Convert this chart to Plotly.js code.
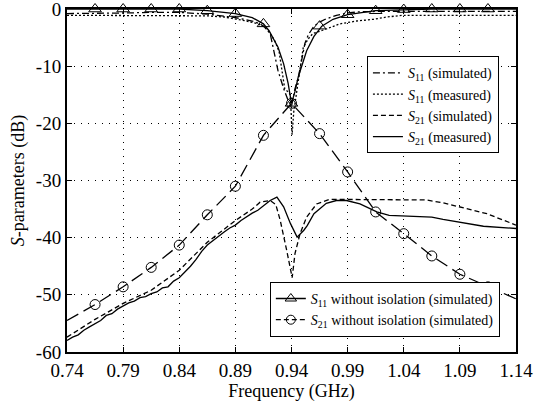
<!DOCTYPE html>
<html>
<head>
<meta charset="utf-8">
<script src="https://cdn.plot.ly/plotly-3.0.1.min.js"></script>
<style>html,body{margin:0;padding:0;background:#fff;}#chart{width:536px;height:415px;}</style>
</head>
<body>
<div id="chart"></div>
<script>
// ---- data ----
var xTickVals = [0.74, 0.79, 0.84, 0.89, 0.94, 0.99, 1.04, 1.09, 1.14];
var xTickText = ["0.74", "0.79", "0.84", "0.89", "0.94", "0.99", "1.04", "1.09", "1.14"];
var yTickVals = [0, -10, -20, -30, -40, -50, -60];
var yTickText = ["0", "-10", "-20", "-30", "-40", "-50", "-60"];

var s11SimFreq = [0.74, 0.765, 0.79, 0.815, 0.84, 0.865, 0.88, 0.89, 0.90, 0.905, 0.912, 0.918, 0.921, 0.924, 0.928, 0.933, 0.937, 0.94, 0.943, 0.946, 0.949, 0.952, 0.955, 0.96, 0.965, 0.97, 0.98, 0.99, 1.0, 1.02, 1.06, 1.10, 1.14];
var s11SimDb   = [-0.8, -0.8, -0.7, -0.6, -0.6, -0.9, -1.2, -1.5, -1.9, -2.1, -2.6, -3.5, -4.3, -7.0, -10.8, -13.9, -16.0, -17.0, -14.0, -12.0, -9.0, -6.0, -4.5, -3.0, -2.3, -1.8, -1.1, -0.7, -0.5, -0.4, -0.4, -0.4, -0.4];

var s11MeasFreq = [0.74, 0.79, 0.84, 0.865, 0.88, 0.89, 0.90, 0.91, 0.915, 0.92, 0.925, 0.929, 0.932, 0.934, 0.937, 0.939, 0.9405, 0.942, 0.945, 0.9476, 0.9505, 0.955, 0.959, 0.971, 0.983, 0.998, 1.013, 1.025, 1.039, 1.07, 1.10, 1.14];
var s11MeasDb   = [-1.1, -1.1, -1.1, -1.2, -1.4, -1.7, -2.1, -2.6, -3.0, -4.0, -5.5, -7.5, -11.0, -14.0, -14.5, -15.0, -22.0, -18.0, -14.0, -10.2, -6.7, -5.2, -4.3, -3.5, -2.6, -2.1, -1.8, -1.4, -1.1, -1.1, -1.1, -1.1];

var s21SimFreq = [0.74, 0.765, 0.79, 0.815, 0.84, 0.865, 0.89, 0.905, 0.912, 0.921, 0.926, 0.93, 0.9357, 0.9406, 0.9431, 0.9476, 0.9535, 0.9624, 0.974, 1.0, 1.03, 1.06, 1.075, 1.09, 1.114, 1.14];
var s21SimDb   = [-57.4, -54.3, -51.5, -49.2, -45.7, -40.8, -37.0, -35.0, -33.8, -33.5, -34.2, -37.0, -42.2, -47.0, -42.8, -39.3, -36.4, -34.1, -33.3, -33.3, -33.3, -33.4, -33.9, -34.6, -35.8, -37.8];

var s21MeasFreq = [0.74, 0.745, 0.75, 0.755, 0.76, 0.765, 0.77, 0.775, 0.78, 0.785, 0.79, 0.795, 0.80, 0.805, 0.81, 0.815, 0.82, 0.825, 0.83, 0.835, 0.84, 0.845, 0.85, 0.855, 0.86, 0.865, 0.87, 0.875, 0.88, 0.885, 0.89, 0.895, 0.90, 0.905, 0.91, 0.916, 0.921, 0.927, 0.933, 0.939, 0.945, 0.951, 0.954, 0.96, 0.971, 0.98, 0.989, 1.001, 1.016, 1.027, 1.05, 1.065, 1.075, 1.09, 1.111, 1.14];
var s21MeasDb   = [-58.0, -57.4, -57.0, -56.2, -55.6, -55.0, -54.5, -53.6, -53.3, -52.5, -52.0, -51.4, -51.1, -50.5, -50.3, -49.8, -49.5, -48.8, -48.6, -47.6, -47.0, -46.0, -45.0, -43.8, -42.4, -41.3, -40.5, -39.7, -39.0, -38.3, -37.8, -37.0, -36.3, -35.7, -35.2, -34.2, -33.5, -32.9, -34.6, -37.5, -39.9, -38.7, -37.9, -35.8, -34.0, -33.5, -33.5, -34.1, -35.5, -36.1, -36.3, -36.4, -36.8, -37.3, -38.0, -38.4];

var s11NoIsoFreq = [0.74, 0.765, 0.79, 0.815, 0.84, 0.865, 0.89, 0.905, 0.915, 0.92, 0.928, 0.933, 0.937, 0.94, 0.943, 0.946, 0.95, 0.9535, 0.96, 0.967, 0.977, 0.99, 1.015, 1.04, 1.065, 1.09, 1.115, 1.14];
var s11NoIsoDb   = [0, 0, 0, 0, 0, -0.3, -0.8, -1.5, -2.6, -3.8, -6.7, -9.6, -13.0, -16.5, -14.5, -11.9, -9.3, -7.3, -4.8, -3.0, -1.8, -1.0, -0.3, -0.1, 0, 0, 0, 0];
var s11NoIsoMarkFreq = [0.765, 0.79, 0.815, 0.84, 0.865, 0.89, 0.915, 0.94, 0.965, 0.99, 1.015, 1.04, 1.065, 1.09, 1.115];
var s11NoIsoMarkDb   = [0, 0, 0, 0, -0.3, -0.8, -2.6, -16.5, -3.0, -1.0, -0.3, -0.1, 0, 0, 0];

var s21NoIsoFreq = [0.74, 0.765, 0.79, 0.815, 0.84, 0.865, 0.89, 0.915, 0.94, 0.965, 0.99, 1.015, 1.04, 1.065, 1.09, 1.115, 1.14];
var s21NoIsoDb   = [-54.5, -51.7, -48.6, -45.2, -41.3, -36.0, -31.0, -22.1, -16.5, -21.8, -28.5, -35.5, -39.3, -43.2, -46.4, -48.6, -50.7];
var s21NoIsoMarkFreq = [0.765, 0.79, 0.815, 0.84, 0.865, 0.89, 0.915, 0.94, 0.965, 0.99, 1.015, 1.04, 1.065, 1.09, 1.115];
var s21NoIsoMarkDb   = [-51.7, -48.6, -45.2, -41.3, -36.0, -31.0, -22.1, -16.5, -21.8, -28.5, -35.5, -39.3, -43.2, -46.4, -48.6];

var names = [
  "<i>S</i><sub>11</sub> (simulated)",
  "<i>S</i><sub>11</sub> (measured)",
  "<i>S</i><sub>21</sub> (simulated)",
  "<i>S</i><sub>21</sub> (measured)",
  "<i>S</i><sub>11</sub> without isolation (simulated)",
  "<i>S</i><sub>21</sub> without isolation (simulated)"
];

// ---- traces ----
var FONT = 'Liberation Serif, Times New Roman, serif';
var LW = 1.3;
var traces = [
  {x: s21NoIsoFreq, y: s21NoIsoDb, mode: 'lines', line: {color: '#000', width: LW, dash: '13px,6px'}, showlegend: false, hoverinfo: 'skip', cliponaxis: true},
  {x: s21NoIsoMarkFreq, y: s21NoIsoMarkDb, mode: 'markers', marker: {symbol: 'circle-open', size: 10, color: '#000', line: {width: 1, color: '#000'}}, showlegend: false, cliponaxis: false},
  {x: s11NoIsoFreq, y: s11NoIsoDb, mode: 'lines', line: {color: '#000', width: LW}, showlegend: false, cliponaxis: false},
  {x: s11NoIsoMarkFreq, y: s11NoIsoMarkDb, mode: 'markers', marker: {symbol: 'triangle-up-open', size: 11, color: '#000', line: {width: 1, color: '#000'}}, showlegend: false, cliponaxis: false},
  {x: s11SimFreq, y: s11SimDb, mode: 'lines', name: names[0], line: {color: '#000', width: LW, dash: '7px,3px,2px,3px'}, legend: 'legend'},
  {x: s11MeasFreq, y: s11MeasDb, mode: 'lines', name: names[1], line: {color: '#000', width: LW, dash: '2px,2px'}, legend: 'legend'},
  {x: s21SimFreq, y: s21SimDb, mode: 'lines', name: names[2], line: {color: '#000', width: LW, dash: '5px,3px'}, legend: 'legend'},
  {x: s21MeasFreq, y: s21MeasDb, mode: 'lines', name: names[3], line: {color: '#000', width: LW}, legend: 'legend'},
  {x: [null], y: [null], mode: 'lines+markers', name: names[4], line: {color: '#000', width: LW}, marker: {symbol: 'triangle-up-open', size: 10, color: '#000', line: {width: 1, color: '#000'}}, legend: 'legend2'},
  {x: [null], y: [null], mode: 'lines+markers', name: names[5], line: {color: '#000', width: LW, dash: '5px,3px'}, marker: {symbol: 'circle-open', size: 9, color: '#000', line: {width: 1, color: '#000'}}, legend: 'legend2'}
];

var axisCommon = {
  showline: true, linewidth: 2, linecolor: '#000', mirror: 'ticks',
  ticks: 'inside', ticklen: 5, tickwidth: 1, tickcolor: '#000',
  showgrid: true, gridcolor: '#000', gridwidth: 1, griddash: '1px,6px',
  zeroline: false, ticklabeloverflow: 'allow',
  tickfont: {family: FONT, size: 19, color: '#000'}
};

var layout = {
  width: 536, height: 415,
  margin: {l: 67, r: 20, t: 8.5, b: 63},
  paper_bgcolor: '#fff', plot_bgcolor: '#fff',
  font: {family: FONT, color: '#000'},
  xaxis: Object.assign({}, axisCommon, {
    range: [0.74, 1.14], tickvals: xTickVals, ticktext: xTickText,
    title: {text: 'Frequency (GHz)', font: {family: FONT, size: 18, color: '#000'}, standoff: 5}
  }),
  yaxis: Object.assign({}, axisCommon, {
    range: [-60, 0], tickvals: yTickVals, ticktext: yTickText,
    title: {text: '<i>S</i>-parameters (dB)', font: {family: FONT, size: 18, color: '#000'}, standoff: 7}
  }),
  legend: {
    x: 0.962, y: 0.862, xanchor: 'right', yanchor: 'top',
    bgcolor: '#fff', bordercolor: '#000', borderwidth: 1,
    font: {family: FONT, size: 14, color: '#000'},
    tracegroupgap: 0, itemwidth: 30
  },
  legend2: {
    x: 0.964, y: 0.044, xanchor: 'right', yanchor: 'bottom',
    bgcolor: '#fff', bordercolor: '#000', borderwidth: 1,
    font: {family: FONT, size: 14, color: '#000'},
    tracegroupgap: 0, itemwidth: 30
  },
  showlegend: true
};

Plotly.newPlot('chart', traces, layout, {displayModeBar: false, staticPlot: true});
</script>
</body>
</html>
